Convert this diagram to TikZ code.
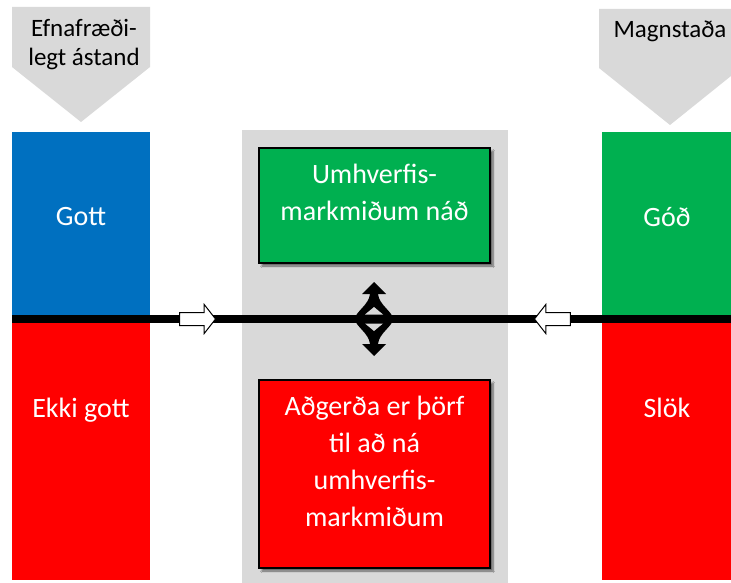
\documentclass[tikz,border=0pt]{standalone}
\usepackage{fontspec}
\setmainfont{Carlito}
\usetikzlibrary{positioning,shapes.arrows,shadows.blur}
\definecolor{stateblue}{HTML}{0070C0}
\definecolor{goodgreen}{HTML}{00B050}
\definecolor{badred}{HTML}{FF0000}
\definecolor{panelgray}{HTML}{D9D9D9}

\begin{document}
\begin{tikzpicture}[x=1pt,y=-1pt,
  every node/.style={inner sep=0pt,font=\fontsize{28}{37}\selectfont},
  headtext/.style={font=\fontsize{25}{28.5}\selectfont,align=center},
  coltext/.style={text=white,anchor=base},
  goalbox/.style={draw=black,line width=1.3pt,minimum width=231pt,
    blur shadow={shadow xshift=3pt,shadow yshift=-3pt,shadow blur steps=6,shadow opacity=55}},
  boxtext/.style={text=white,align=center},
  flowarrow/.style={single arrow,draw=black,fill=white,line width=1pt,
    text height=6pt,text depth=6pt,minimum height=36pt,single arrow head extend=8pt,
    single arrow tip angle=104,single arrow head indent=0pt}]
\useasboundingbox (0,0) rectangle (731,583);
% middle panel and the two heading arrows
\fill[panelgray] (242,130) rectangle (508,583);
\fill[panelgray] (12,7) -- (150,7) -- (150,67) -- (81,122) -- (12,67) -- cycle;
\fill[panelgray] (599,9) -- (731,9) -- (731,76) -- (670,125) -- (599,68) -- cycle;
\node (chem) [headtext,anchor=north] at (84,19.5) {Efnafræði-\\legt ástand};
\node (quant) [headtext,anchor=base] at (670,38) {Magnstaða};
% left and right columns
\fill[stateblue] (12,132) rectangle (150,319);
\fill[badred] (12,319) rectangle (150,580);
\fill[goodgreen] (602,132) rectangle (731,319);
\fill[badred] (602,319) rectangle (731,580);
\node (gott) [coltext] at (81,225) {Gott};
\node (ekki) [coltext] at (81,417) {Ekki gott};
\node (god) [coltext] at (667,226) {Góð};
\node (slok) [coltext] at (667,417) {Slök};
% boundary line
\coordinate (lineL) at (12,319);
\coordinate (lineR) at (731,319);
\draw[line width=8pt] (lineL) -- (lineR);
\node (arrowL) [flowarrow] at (195,319) {};
\node (arrowR) [flowarrow,shape border rotate=180] at (555,319) {};
% goal boxes
\node (goal) [goalbox,fill=goodgreen,minimum height=115pt] at (374.5,205.5) {};
\node (goaltext) [boxtext,below=17pt of goal.north] {Umhverfis-\\markmiðum náð};
\node (action) [goalbox,fill=badred,minimum height=188pt] at (374.5,474) {};
\node (actiontext) [boxtext,below=17pt of action.north] {Aðgerða er þörf\\til að ná\\umhverfis-\\markmiðum};
% double arrow between the goals
\fill (374,282) -- (386,294) -- (378,294) .. controls (379,305) and (393,312) .. (393,319)
  .. controls (393,326) and (379,333) .. (378,344) -- (386,344) -- (374,356) -- (362,344)
  -- (370,344) .. controls (369,333) and (355,326) .. (355,319)
  .. controls (355,312) and (369,305) .. (370,294) -- (362,294) -- cycle;
\fill[panelgray] (374,307) -- (383,314.5) -- (365,314.5) -- cycle;
\fill[panelgray] (374,331) -- (383,323.5) -- (365,323.5) -- cycle;
\end{tikzpicture}
\end{document}
